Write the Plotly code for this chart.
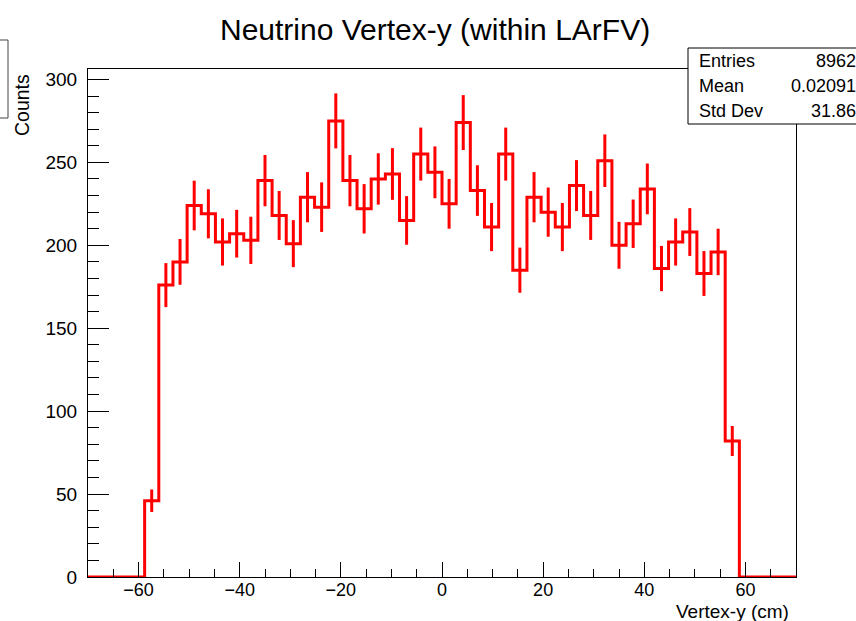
import numpy as np
import plotly.graph_objects as go

# Histogram definition: 50 bins over [-70, 70]
x_min, x_max, n_bins = -70.0, 70.0, 50
edges = np.linspace(x_min, x_max, n_bins + 1)
centers = 0.5 * (edges[:-1] + edges[1:])

# Bin contents (bins 4..45 are populated, the rest are empty)
counts_filled = [
    46, 176, 190, 224, 219, 202, 207, 203, 239, 218, 201,
    229, 223, 275, 239, 222, 240, 243, 215, 255, 244,
    225, 274, 233, 211, 255, 185, 229, 220, 211, 236, 218,
    251, 200, 213, 234, 186, 202, 208, 183, 196, 82,
]
first_filled_bin = 4
counts = np.zeros(n_bins)
counts[first_filled_bin:first_filled_bin + len(counts_filled)] = counts_filled

stat_labels = ["Entries", "Mean", "Std Dev"]
stat_values = ["8962", "0.02091", "31.86"]

title_text = "Neutrino Vertex-y (within LArFV)"
x_title = "Vertex-y (cm)"
y_title = "Counts"

RED = "#ff0000"
FONT = "Liberation Sans, Arial, Helvetica, sans-serif"

# pixel geometry of the frame
W, H = 856, 621
L, R, T, B = 88, 60, 69, 44
pw, ph = W - L - R, H - T - B


def px_x(px):
    return (px - L) / pw


def px_y(py):
    return (H - B - py) / ph


fig = go.Figure()

# step outline
step_x = list(edges[:-1]) + [edges[-1]]
step_y = list(counts) + [counts[-1]]
fig.add_trace(go.Scatter(
    x=step_x, y=step_y, mode="lines", line=dict(color=RED, width=3, shape="hv"),
    hoverinfo="skip", showlegend=False,
))

# Poisson error bars on populated bins
mask = counts > 0
fig.add_trace(go.Scatter(
    x=centers[mask], y=counts[mask], mode="markers",
    marker=dict(size=0.1, color=RED),
    error_y=dict(type="data", array=np.sqrt(counts[mask]), color=RED,
                 thickness=3, width=0),
    hoverinfo="skip", showlegend=False,
))

axis_common = dict(
    showgrid=False, zeroline=False, showline=True, linecolor="black",
    linewidth=1, mirror=True, ticks="inside", tickcolor="black",
    tickwidth=1,
)

fig.update_xaxes(
    range=[x_min, x_max], tickmode="array",
    tickvals=[-60, -40, -20, 0, 20, 40, 60], ticklen=15,
    minor=dict(dtick=5, tick0=0, ticklen=8, ticks="inside", tickcolor="black"),
    ticklabelstandoff=-4,
    tickfont=dict(family=FONT, size=18, color="black"),
    **axis_common,
)
fig.update_yaxes(
    range=[0, 306.3], tickmode="array",
    tickvals=[0, 50, 100, 150, 200, 250, 300], ticklen=21,
    minor=dict(dtick=10, tick0=0, ticklen=11, ticks="inside", tickcolor="black"),
    ticklabelstandoff=6,
    tickfont=dict(family=FONT, size=19, color="black"),
    **axis_common,
)

annotations = [
    dict(text=title_text, x=px_x(435), y=px_y(30), xref="paper", yref="paper",
         xanchor="center", yanchor="middle", showarrow=False,
         font=dict(family=FONT, size=30, color="black")),
    dict(text=x_title, x=px_x(791), y=px_y(611), xref="paper", yref="paper",
         xanchor="right", yanchor="middle", showarrow=False,
         font=dict(family=FONT, size=19, color="black")),
    dict(text=y_title, x=px_x(22), y=px_y(72), xref="paper", yref="paper",
         xanchor="center", yanchor="top", textangle=-90, showarrow=False,
         font=dict(family=FONT, size=19.5, color="black")),
]

row_y = [61, 86, 111]
for lab, val, yy in zip(stat_labels, stat_values, row_y):
    annotations.append(dict(
        text=lab, x=px_x(697), y=px_y(yy), xref="paper", yref="paper",
        xanchor="left", yanchor="middle", showarrow=False,
        font=dict(family=FONT, size=18, color="black")))
    annotations.append(dict(
        text=val, x=px_x(858), y=px_y(yy), xref="paper", yref="paper",
        xanchor="right", yanchor="middle", showarrow=False,
        font=dict(family=FONT, size=18, color="black")))

shapes = [
    # statistics box
    dict(type="rect", xref="paper", yref="paper",
         x0=px_x(688), x1=px_x(870), y0=px_y(124), y1=px_y(48),
         line=dict(color="black", width=1), fillcolor="white", layer="above"),
    # clipped box at the top-left corner
    dict(type="rect", xref="paper", yref="paper",
         x0=px_x(-40), x1=px_x(8), y0=px_y(118), y1=px_y(40),
         line=dict(color="#444444", width=1), fillcolor="rgba(0,0,0,0)",
         layer="above"),
]

fig.update_layout(
    width=W, height=H, margin=dict(l=L, r=R, t=T, b=B),
    paper_bgcolor="white", plot_bgcolor="white",
    annotations=annotations, shapes=shapes, showlegend=False,
)

fig.write_html("out.html")
